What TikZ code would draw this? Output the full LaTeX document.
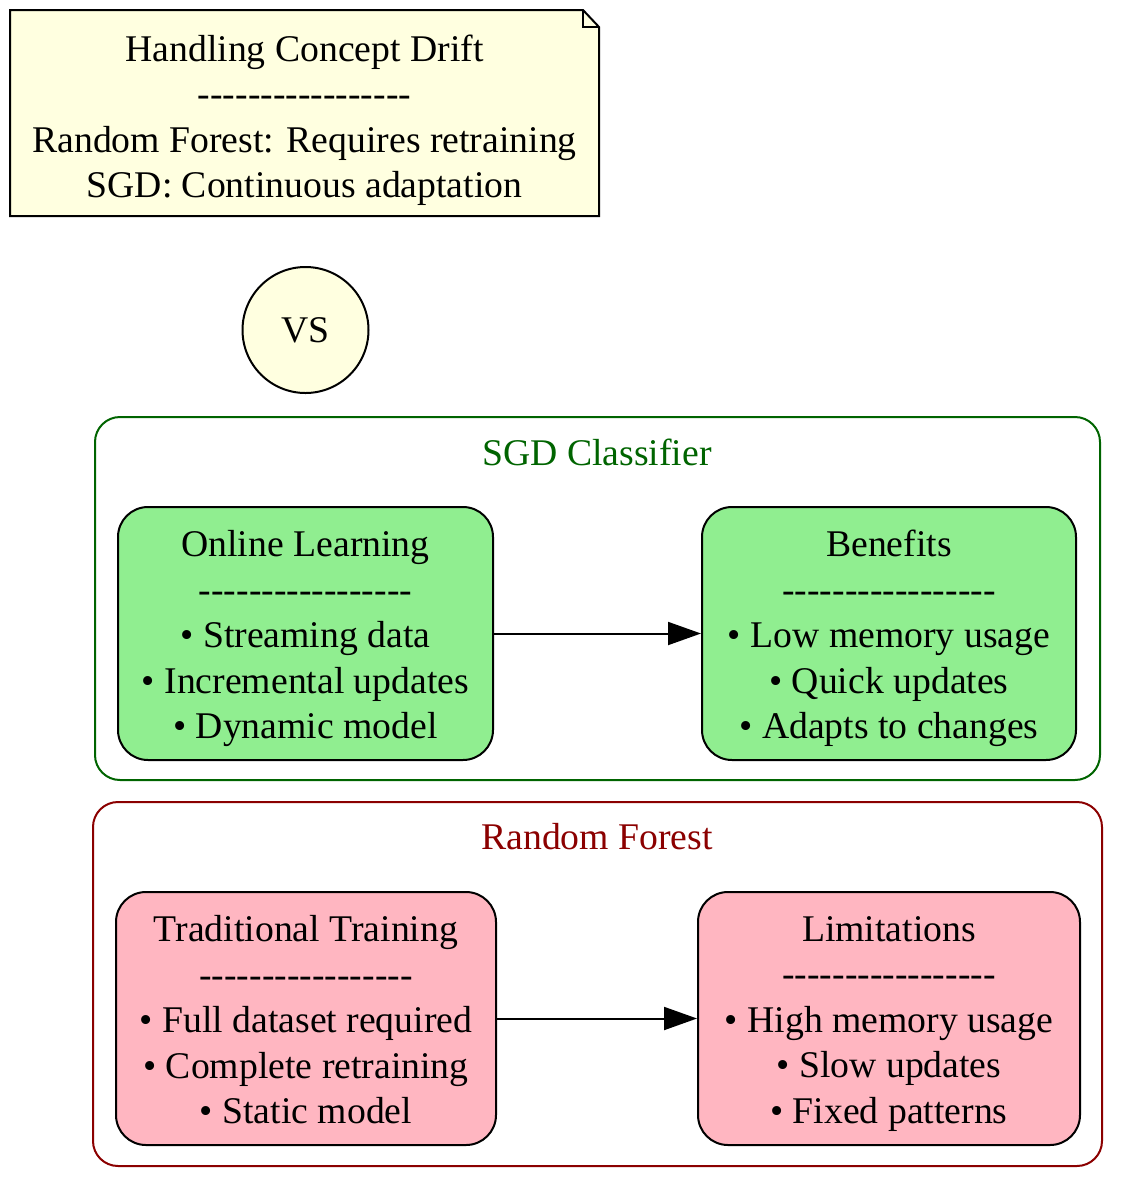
\documentclass[tikz,border=0pt]{standalone}
\usepackage{fontspec}
\setmainfont{Liberation Serif}[Ligatures=TeXOff]
\usetikzlibrary{arrows.meta}
\definecolor{noteyellow}{HTML}{FFFFE0}
\definecolor{boxgreen}{HTML}{90EE90}
\definecolor{boxpink}{HTML}{FFB6C1}
\definecolor{sgdgreen}{HTML}{006400}
\definecolor{rfred}{HTML}{8B0000}
\tikzset{
  gvfont/.style={font=\fontsize{37.7}{45.5}\selectfont},
  strutted/.style={execute at begin node=\strut, execute at end node=\strut},
  boxtext/.style={gvfont, strutted, align=center, inner sep=0pt},
  itembox/.style={draw=black, line width=2pt, rounded corners=30pt, inner sep=0pt, minimum height=253pt},
  sgdbox/.style={itembox, fill=boxgreen},
  rfbox/.style={itembox, fill=boxpink},
  clusterframe/.style={line width=2pt, rounded corners=25pt},
  clusterlabel/.style={gvfont, inner sep=0pt},
  flow/.style={line width=2pt, -{Triangle[length=33pt, width=23pt]}},
}
\begin{document}
\begin{tikzpicture}[x=1pt, y=-1pt]
\useasboundingbox (0,0) rectangle (1135,1200);

% note
\filldraw[fill=noteyellow, draw=black, line width=2pt, line join=miter]
  (10,10) -- (583,10) -- (599,27) -- (599,216) -- (10,216) -- cycle;
\draw[line width=2pt] (583,10) -- (583,27) -- (599,27);
\node[boxtext] (note) at (304.5,123)
  {Handling Concept Drift\\-----------------\\Random Forest: Requires retraining\\SGD: Continuous adaptation};

% VS circle
\node[gvfont, circle, draw=black, line width=2pt, fill=noteyellow, minimum size=126pt, inner sep=0pt] (vs) at (305.5,330) {VS};

% SGD cluster
\draw[clusterframe, draw=sgdgreen] (95,417) rectangle (1100,780);
\node[clusterlabel, text=sgdgreen] (sgdlabel) at (597,452) {SGD Classifier};
\node[sgdbox, minimum width=375pt] (online) at (305.5,633.5) {};
\node[boxtext] (onlinetext) at ([yshift=-8pt]online.center)
  {Online Learning\\-----------------\\• Streaming data\\• Incremental updates\\• Dynamic model};
\node[sgdbox, minimum width=374pt] (benefits) at (889,633.5) {};
\node[boxtext] (benefitstext) at ([yshift=-8pt]benefits.center)
  {Benefits\\-----------------\\• Low memory usage\\• Quick updates\\• Adapts to changes};
\draw[flow] (online) -- (benefits);

% RF cluster
\draw[clusterframe, draw=rfred] (93,802) rectangle (1102,1166);
\node[clusterlabel, text=rfred] (rflabel) at (597,837) {Random Forest};
\node[rfbox, minimum width=380pt] (trad) at (306,1018.5) {};
\node[boxtext] (tradtext) at ([yshift=-8pt]trad.center)
  {Traditional Training\\-----------------\\• Full dataset required\\• Complete retraining\\• Static model};
\node[rfbox, minimum width=382pt] (limits) at (889,1018.5) {};
\node[boxtext] (limitstext) at ([yshift=-8pt]limits.center)
  {Limitations\\-----------------\\• High memory usage\\• Slow updates\\• Fixed patterns};
\draw[flow] (trad) -- (limits);
\end{tikzpicture}
\end{document}
